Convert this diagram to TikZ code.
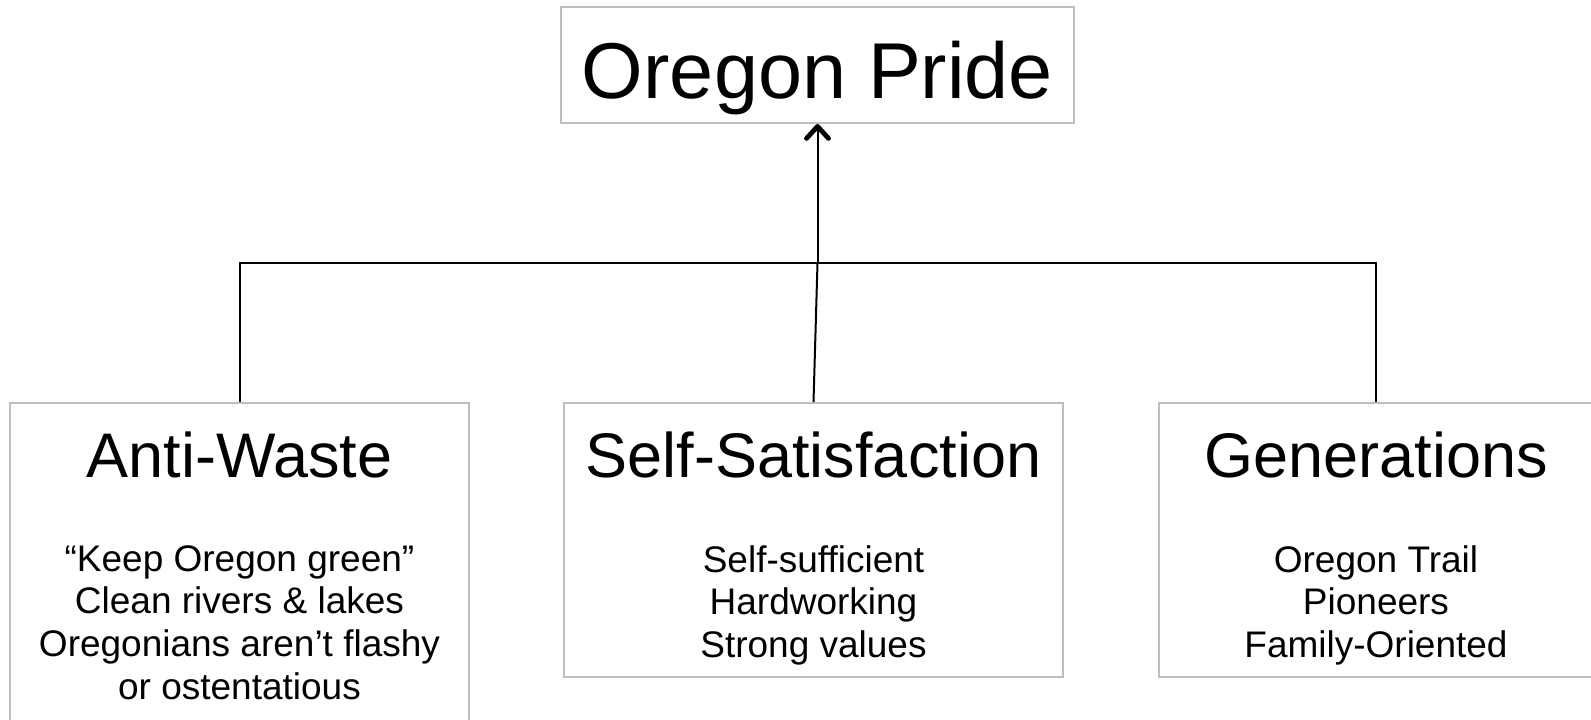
\documentclass[tikz,border=0pt]{standalone}
\usepackage{fontspec}
\setmainfont{Liberation Sans}
\usepackage{tikz}
\usetikzlibrary{arrows.meta,positioning}

\tikzset{
  box/.style={draw=gray!50, line width=1pt, rectangle, inner sep=0pt},
  heading/.style={inner sep=0pt, anchor=base, font=\fontsize{31.5}{37}\selectfont},
  items/.style={inner sep=0pt, anchor=north, align=center, font=\fontsize{18.5}{21.3}\selectfont},
  link/.style={line width=1pt, black}
}

\begin{document}
\begin{tikzpicture}[x=1pt, y=-1pt]
\useasboundingbox (0,0) rectangle (795.5,359.5);
\clip (0,0) rectangle (795.5,359.5);
% Top box
\node [box, minimum width=256.5pt, minimum height=58pt] (pride) at (408.75,32.5) {};
\node [inner sep=0pt, anchor=base, font=\fontsize{39.6}{46}\selectfont] (pridetitle) at (408.75,49.2) {Oregon Pride};
% Anti-Waste box
\node [box, minimum width=229.5pt, minimum height=170pt] (waste) at (119.75,286.5) {};
\node [heading] (wastetitle) at (119.75,238.5) {Anti-Waste};
\node [items] (wastelist) at (119.75,272.5) {“Keep Oregon green”\\Clean rivers \& lakes\\Oregonians aren’t flashy\\or ostentatious};
% Self-Satisfaction box
\node [box, minimum width=249.5pt, minimum height=137pt] (satis) at (406.75,270) {};
\node [heading] (satistitle) at (406.75,238.5) {Self-Satisfaction};
\node [items] (satislist) at (406.75,272.5) {Self-sufficient\\Hardworking\\Strong values};
% Generations box
\node [box, minimum width=217pt, minimum height=137pt] (gener) at (688,270) {};
\node [heading] (genertitle) at (688,238.5) {Generations};
\node [items] (generlist) at (688,272.5) {Oregon Trail\\Pioneers\\Family-Oriented};
% Connectors
\coordinate (joint) at (pride.south |- 0,131.5);
\draw [link] (waste.north) |- (joint) -| (gener.north);
\draw [link] (satis.north) -- (joint);
\draw [link, -{Straight Barb[length=6pt, width=11pt, line width=2.4pt, round]}] (joint) -- (pride.south);
\end{tikzpicture}
\end{document}
